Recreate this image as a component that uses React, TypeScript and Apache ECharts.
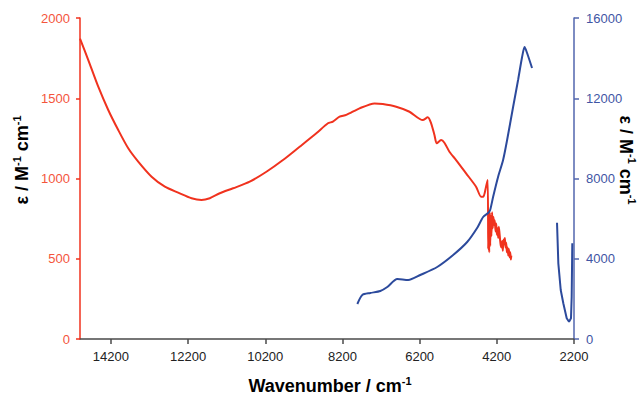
import React, { useEffect, useRef } from "react";
import * as echarts from "echarts";

// Red spectrum (left axis, ε / M-1 cm-1)
const redWavenumber = [
  15000, 14785, 14527, 14268, 14009, 13750, 13492, 13145, 12801, 12457, 12110, 11852,
  11637, 11378, 11034, 10602, 10170, 9741, 9309, 8876, 8576, 8447, 8274, 8101, 7756,
  7368, 7154, 6807, 6463, 6119, 5989, 5902, 5816, 5756, 5643, 5558, 5428, 5255, 4996,
  4738, 4608, 4549, 4479, 4436, 4423, 4410, 4397, 4384, 4371, 4358, 4340, 4322, 4306,
  4288, 4270, 4254, 4232, 4215, 4199, 4180, 4164, 4148, 4130, 4112, 4096, 4078, 4060,
  4044, 4026, 4008, 3992, 3974, 3956, 3940, 3922, 3904, 3888, 3870, 3852, 3836, 3824,
];
const redEpsilon = [
  1872, 1738, 1572, 1427, 1302, 1188, 1105, 1011, 949, 912, 877, 866,
  877, 908, 939, 980, 1042, 1115, 1198, 1282, 1344, 1354, 1385, 1396, 1437,
  1468, 1464, 1447, 1416, 1364, 1381, 1344, 1271, 1219, 1240, 1223, 1167, 1115, 1032,
  949, 887, 887, 949, 991, 560, 800, 540, 790, 580, 770, 640, 790, 690,
  760, 710, 740, 670, 720, 650, 690, 630, 700, 660, 610, 580, 570, 610,
  550, 620, 590, 630, 570, 600, 540, 570, 520, 560, 510, 540, 495, 520,
];

// Blue spectrum (right axis), first segment
const blueAWavenumber = [
  7814, 7685, 7478, 7219, 7038, 6779, 6495, 6184, 5745, 5331, 4968, 4710, 4554, 4425,
  4373, 4295, 4166, 4037, 3933, 3778, 3649, 3545, 3481, 3416, 3287,
];
const blueAEpsilon = [
  1745, 2193, 2293, 2393, 2592, 2990, 2941, 3190, 3589, 4187, 4835, 5533, 6081, 6280,
  6430, 7092, 8089, 8922, 9918, 11563, 12909, 14055, 14553, 14254, 13507,
];

// Blue spectrum, second segment near 2200 cm-1
const blueBWavenumber = [2640, 2606, 2544, 2477, 2389, 2329, 2278, 2260, 2244];
const blueBEpsilon = [5796, 3773, 2442, 1779, 1032, 862, 1032, 2108, 4770];

const xTicks = [2200, 4200, 6200, 8200, 10200, 12200, 14200];

const RED = "#f0321e";
const RED_LABEL = "#f4553c";
const BLUE = "#2c4a9c";
const BLUE_AXIS = "#5266ae";
const BLUE_LABEL = "#3f55a4";
const FONT = "Liberation Sans, Arial, sans-serif";

const zip = (a: number[], b: number[]) => a.map((v, i) => [v, b[i]]);
const plain = (v: number) => String(v);

const titleRich = (color: string) => ({
  n: { fontSize: 18, fontWeight: "bold", color, fontFamily: FONT, lineHeight: 20, verticalAlign: "bottom" },
  s: { fontSize: 11, fontWeight: "bold", color, fontFamily: FONT, lineHeight: 11, verticalAlign: "top" },
});

export default function App() {
  const ref = useRef<HTMLDivElement>(null);
  useEffect(() => {
    if (!ref.current) return;
    const chart = echarts.init(ref.current, null, { renderer: "svg" });
    chart.setOption({
      animation: false,
      backgroundColor: "#ffffff",
      grid: { left: 80, right: 64, top: 18, bottom: 57, containLabel: false },
      xAxis: {
        type: "value",
        inverse: true,
        min: 2200,
        max: 15000,
        splitLine: { show: false },
        axisLine: { lineStyle: { color: "#4a4a4a", width: 1.5 } },
        axisTick: { show: true, length: 5, customValues: xTicks, lineStyle: { color: "#4a4a4a", width: 1.5 } },
        axisLabel: {
          customValues: xTicks,
          formatter: plain,
          color: "#222",
          fontSize: 13,
          fontFamily: FONT,
          margin: 11,
        },
      },
      yAxis: [
        {
          type: "value",
          min: 0,
          max: 2000,
          interval: 500,
          position: "left",
          splitLine: { show: false },
          axisLine: { show: true, lineStyle: { color: RED, width: 1.5 } },
          axisTick: { show: true, length: 4, lineStyle: { color: RED, width: 1.5 } },
          axisLabel: { formatter: plain, color: RED_LABEL, fontSize: 13, fontFamily: FONT, margin: 10 },
        },
        {
          type: "value",
          min: 0,
          max: 16000,
          interval: 4000,
          position: "right",
          splitLine: { show: false },
          axisLine: { show: true, lineStyle: { color: BLUE_AXIS, width: 1.5 } },
          axisTick: { show: true, length: 5, lineStyle: { color: BLUE_AXIS, width: 1.5 } },
          axisLabel: { formatter: plain, color: BLUE_LABEL, fontSize: 13, fontFamily: FONT, margin: 12 },
        },
      ],
      series: [
        {
          type: "line",
          yAxisIndex: 0,
          data: zip(redWavenumber, redEpsilon),
          showSymbol: false,
          smooth: 0.25,
          lineStyle: { color: RED, width: 2 },
        },
        {
          type: "line",
          yAxisIndex: 1,
          data: zip(blueAWavenumber, blueAEpsilon),
          showSymbol: false,
          smooth: 0.25,
          lineStyle: { color: BLUE, width: 2 },
        },
        {
          type: "line",
          yAxisIndex: 1,
          data: zip(blueBWavenumber, blueBEpsilon),
          showSymbol: false,
          lineStyle: { color: BLUE, width: 2 },
        },
      ],
      graphic: [
        {
          type: "text",
          x: 330,
          y: 385,
          style: {
            text: "{n|Wavenumber / cm}{s|-1}",
            rich: titleRich("#111111"),
            align: "center",
            verticalAlign: "middle",
          },
        },
        {
          type: "text",
          x: 21,
          y: 160,
          rotation: Math.PI / 2,
          style: {
            text: "{n|ε / M}{s|-1}{n| cm}{s|-1}",
            rich: titleRich(RED),
            align: "center",
            verticalAlign: "middle",
          },
        },
        {
          type: "text",
          x: 627,
          y: 160,
          rotation: -Math.PI / 2,
          style: {
            text: "{n|ε / M}{s|-1}{n| cm}{s|-1}",
            rich: titleRich(BLUE),
            align: "center",
            verticalAlign: "middle",
          },
        },
      ],
    });
    return () => chart.dispose();
  }, []);
  return (
    <div
      ref={ref}
      style={{ position: "fixed", left: 0, top: 0, width: 638, height: 396 }}
    />
  );
}
